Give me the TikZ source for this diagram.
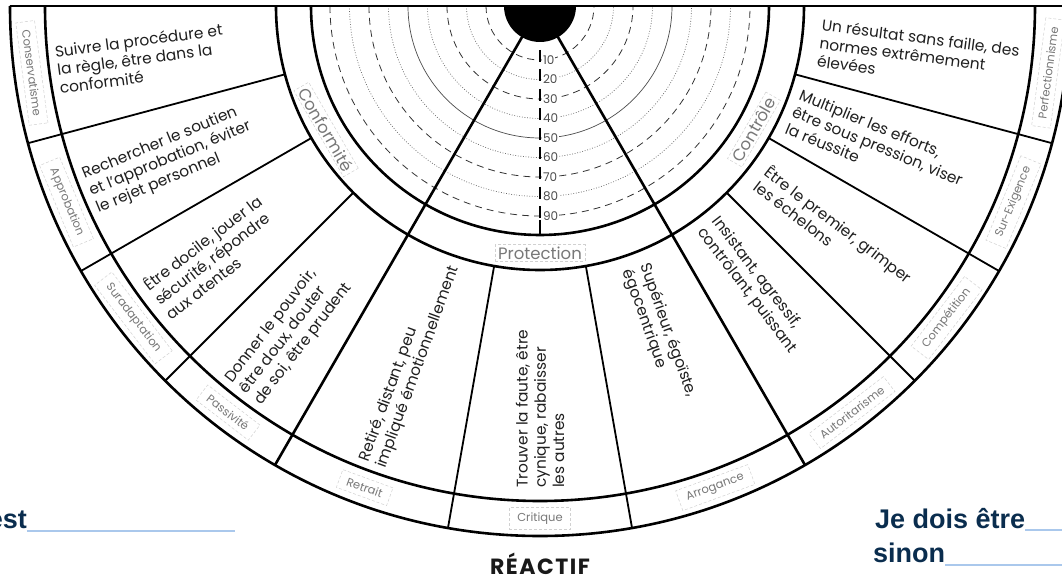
\documentclass[tikz,border=0pt]{standalone}
\usepackage{fontspec}
\setmainfont{Poppins}
\newfontfamily\headfont{Liberation Sans}
\definecolor{navy}{RGB}{10,45,78}
\definecolor{lineblue}{RGB}{170,200,236}
\definecolor{lblgray}{RGB}{120,120,120}
\begin{document}
\begin{tikzpicture}[x=1pt,y=1pt,
  thickline/.style={line width=2.6pt},
  divline/.style={line width=1.8pt},
  ringdash/.style={line width=0.8pt, black!80, dash pattern=on 7pt off 5pt},
  ringdot/.style={line width=0.7pt, black!60, dash pattern=on 0.8pt off 1.8pt},
  ringsolid/.style={line width=0.7pt, black!70},
  sectxt/.style={font=\fontsize{15.4}{18.3}\selectfont, align=left, text=black!88, inner sep=0pt},
  ringlbl/.style={font=\fontsize{16.5}{16.5}\selectfont, text=lblgray, draw=black!18, densely dashed, line width=0.5pt, inner xsep=3pt, inner ysep=2pt},
  outlbl/.style={font=\fontsize{11.5}{11.5}\selectfont, text=lblgray, draw=black!18, densely dashed, line width=0.5pt, inner xsep=8pt, inner ysep=5pt},
  numlbl/.style={font=\fontsize{12}{12}\selectfont, text=black!70, fill=white, inner sep=0.8pt, anchor=west},
  bigtxt/.style={font=\headfont\bfseries\fontsize{27}{27}\selectfont, text=navy, inner sep=0pt}
]
\useasboundingbox (-540,-574) rectangle (522,6);
\clip (-540,-574) rectangle (522,6);
\fill[white] (-540,-574) rectangle (522,6);

% scale rings
\foreach \k/\st in {1/ringdash,2/ringdot,3/ringdash,4/ringdot,5/ringsolid,6/ringdot,7/ringdash,8/ringdot,9/ringdash}{
  \pgfmathsetmacro{\r}{54+19.5*(\k-1)}
  \draw[\st] (180:\r) arc[start angle=180, end angle=360, radius=\r];
}
% vertical scale line
\coordinate (vtop) at (0,-44);
\coordinate (v90) at (0,-214);
\coordinate (vbot) at (0,-229);
\draw[line width=2pt, dash pattern=on 12pt off 7.5pt] (vtop) -- (v90);
\draw[line width=2pt] (v90) -- (vbot);
\foreach \k in {1,...,9}{
  \pgfmathsetmacro{\r}{54+19.5*(\k-1)}
  \node[numlbl] (n\k) at (2,-\r) {\k0};
}

% main arcs
\foreach \r in {229,264,495,530}{
  \draw[thickline] (180:\r) arc[start angle=180, end angle=360, radius=\r];
}
\draw[thickline] (180:530) -- (0:530);

% dot
\fill (-36,0) arc[start angle=180, end angle=360, radius=36] -- cycle;

% group dividers
\foreach \a in {240,300}{
  \draw[thickline] (\a:30) -- (\a:530);
}
% sector dividers
\foreach \a in {195,210,225,260,280,315,330,345}{
  \draw[divline] (\a:264) -- (\a:530);
}

% middle ring labels
\node[ringlbl, rotate=-60] (conf) at (210:247) {Conformité};
\node[ringlbl] (prot) at (270:247) {Protection};
\node[ringlbl, rotate=60] (ctrl) at (330:247) {Contrôle};

% outer ring labels
\foreach \a/\t in {187.5/Conservatisme, 202.5/Approbation, 217.5/Suradaptation, 232.5/Passivité, 250/Retrait, 270/Critique, 290/Arrogance, 307.5/Autoritarisme, 322.5/Compétition, 337.5/Sur-Exigence, 352.5/Perfectionnisme}{
  \node[outlbl, rotate=\a-270] at (\a:512.5) {\t};
}

% sector texts (left / bottom, reading inward)
\node[sectxt, anchor=west, rotate=7.5] (s1) at (187.5:487) {Suivre la procédure et\\la règle, être dans la\\conformité};
\node[sectxt, anchor=west, rotate=22.5] (s2) at (202.5:487) {Rechercher le soutien\\et l’approbation, éviter\\le rejet personnel};
\node[sectxt, anchor=west, rotate=37.5] (s3) at (217.5:484) {Être docile, jouer la\\sécurité, répondre\\aux atentes};
\node[sectxt, anchor=west, rotate=52.5] (s4) at (232.5:487) {Donner le pouvoir,\\être doux, douter\\de soi, être prudent};
\node[sectxt, anchor=west, rotate=70] (s5) at (250:488) {Retiré, distant, peu\\impliqué émotionnellement};
\node[sectxt, anchor=west, rotate=90] (s6) at (270:482) {Trouver la faute, être\\cynique, rabaisser\\les autres};
% right side (reading outward)
\node[sectxt, anchor=west, rotate=-70] (s7) at (290:278) {Supérieur, égoïste,\\égocentrique};
\node[sectxt, anchor=west, rotate=-52.5] (s8) at (307.5:275) {Insistant, agressif,\\contrôlant, puissant};
\node[sectxt, anchor=west, rotate=-37.5] (s9) at (322.5:280) {Être le premier, grimper\\les échelons};
\node[sectxt, anchor=west, rotate=-22.5] (s10) at (337.5:274) {Multiplier les efforts,\\être sous pression, viser\\la réussite};
\node[sectxt, anchor=west, rotate=-7.5] (s11) at (352.5:282) {Un résultat sans faille, des\\normes extrêmement\\élevées};

% bottom texts
\node[font=\bfseries\fontsize{22}{22}\selectfont\addfontfeature{LetterSpace=7}, text=black!90, anchor=base, inner sep=0pt] (reac) at (0,-568) {RÉACTIF};

\node[bigtxt, anchor=base east] (est) at (-513,-522) {est};
\coordinate (u1a) at (-513,-525);
\coordinate (u1b) at (-305,-525);
\draw[lineblue, line width=1.6pt] (u1a) -- (u1b);

\node[bigtxt, anchor=base west] (je) at (335,-522) {Je dois être};
\coordinate (u2b) at (525,-524);
\draw[lineblue, line width=1.6pt] (je.base east) ++(0,-2) -- (u2b);

\node[bigtxt, anchor=base west] (sinon) at (333,-556) {sinon};
\coordinate (u3b) at (525,-559);
\draw[lineblue, line width=1.6pt] (sinon.base east) ++(0,-3) -- (u3b);
\end{tikzpicture}
\end{document}
